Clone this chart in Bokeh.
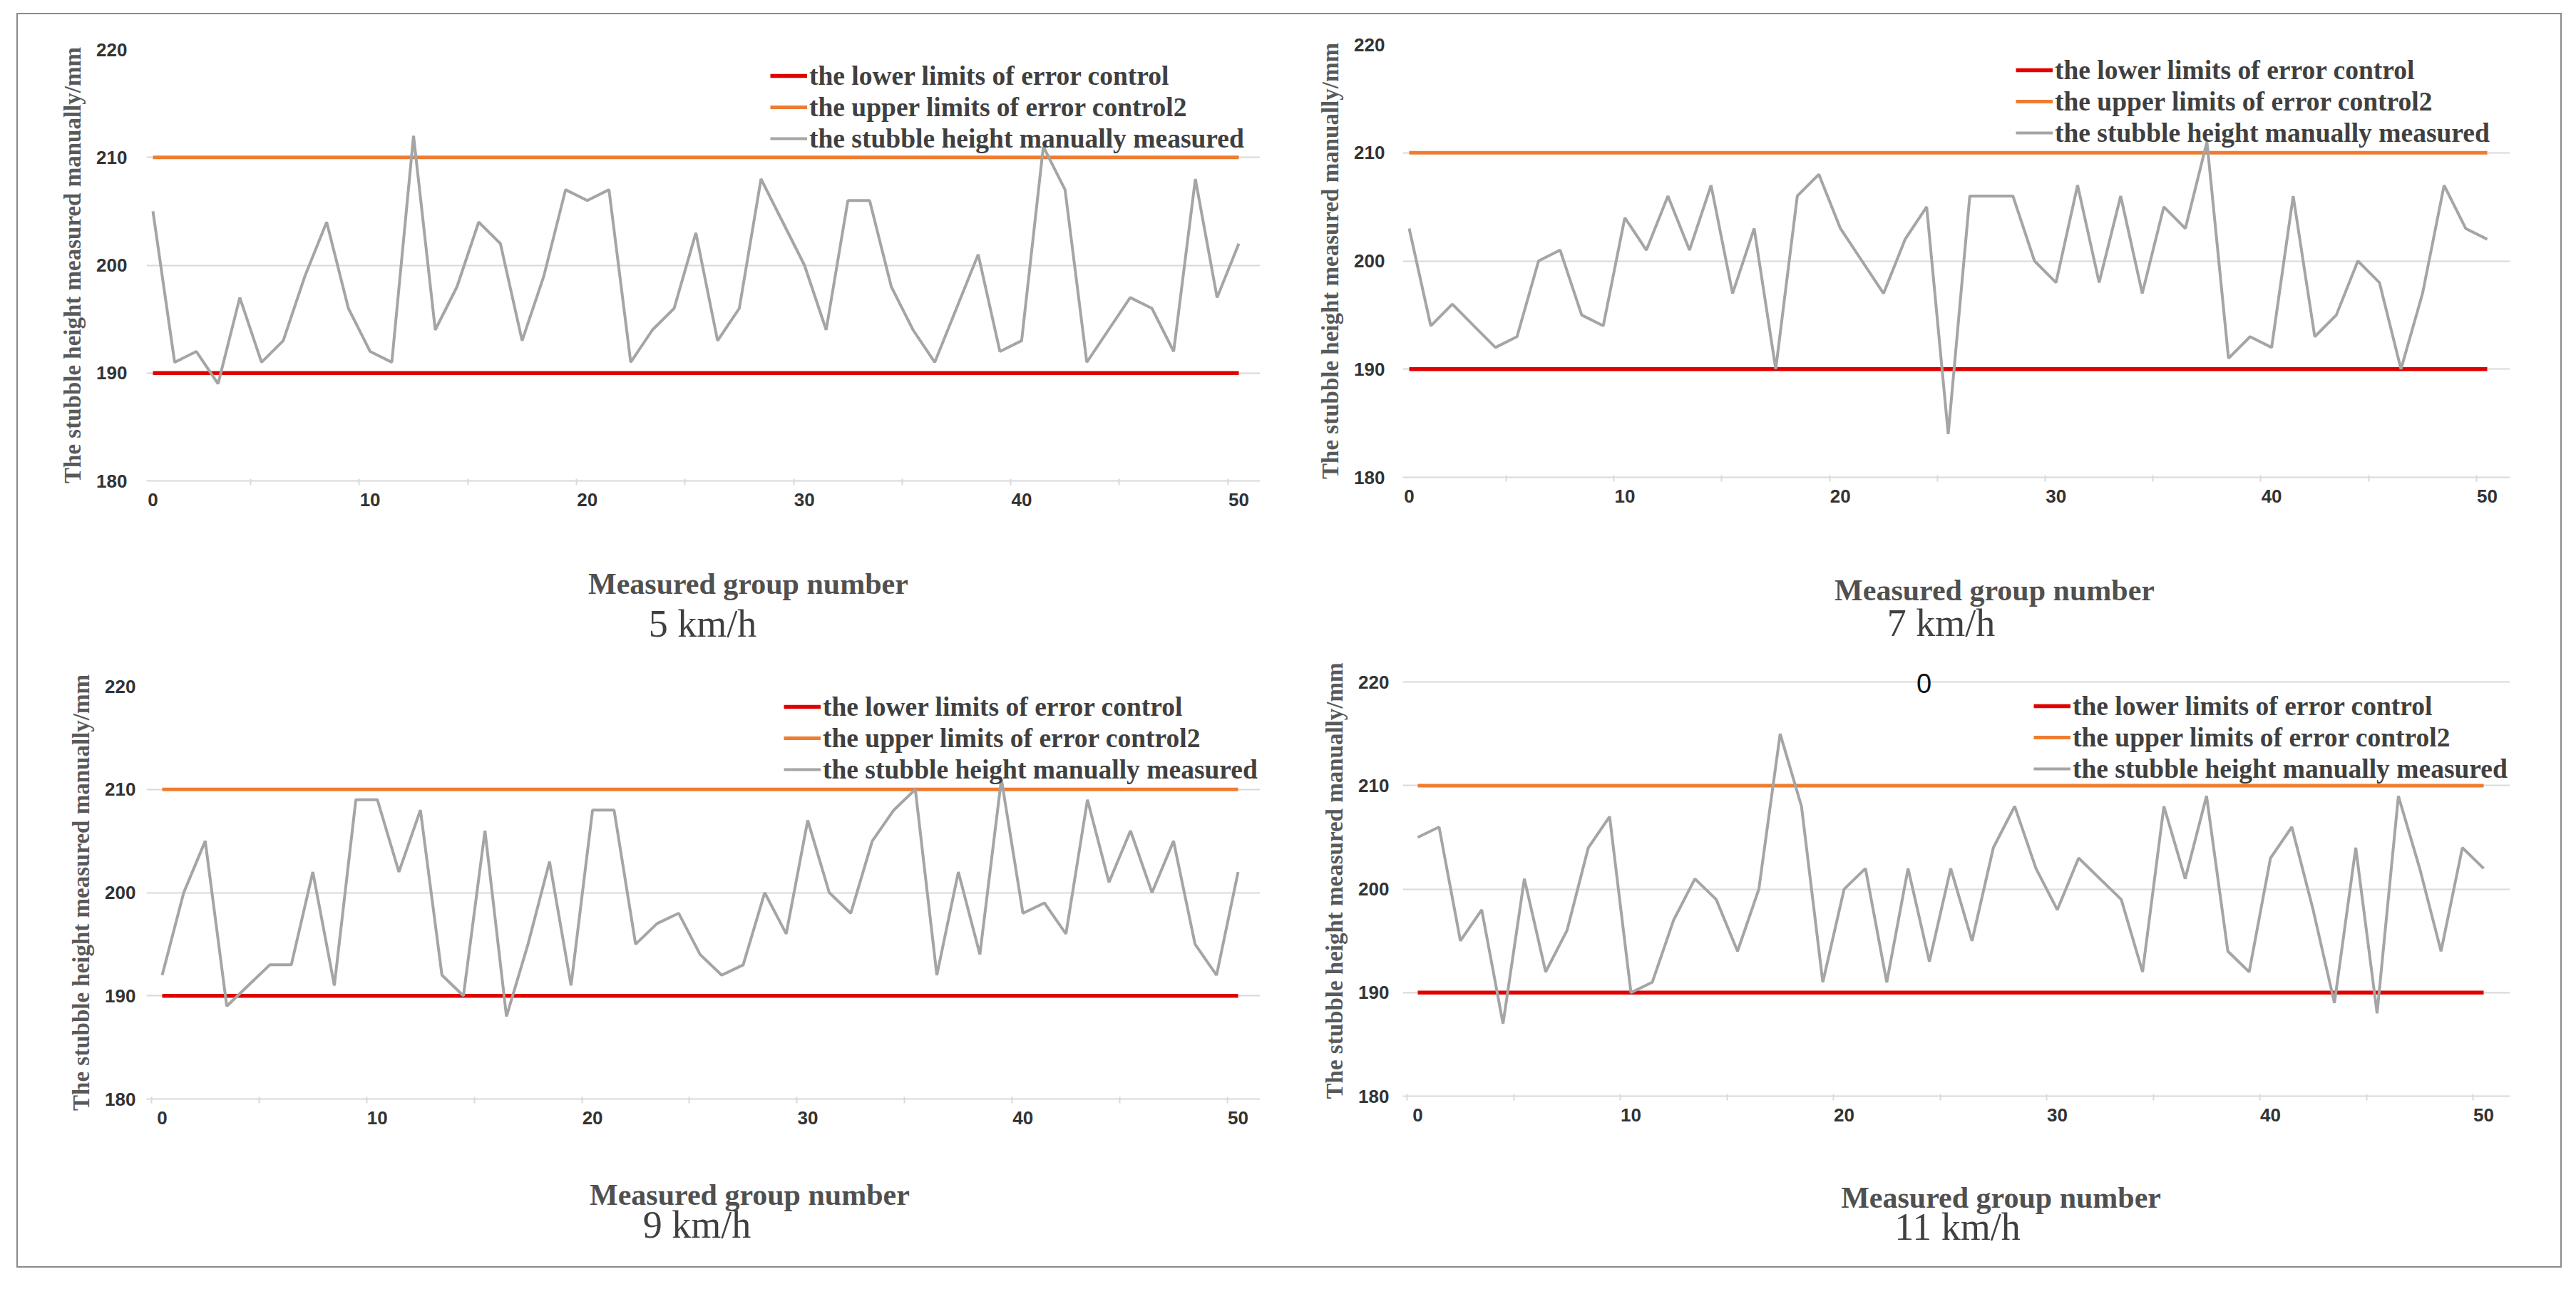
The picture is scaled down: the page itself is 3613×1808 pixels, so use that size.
from bokeh.plotting import figure
from bokeh.models import FixedTicker, Label, Legend, LegendItem, Range1d, Spacer
from bokeh.layouts import column, row
from bokeh.embed import file_html
from bokeh.resources import INLINE

# ---------------- data ----------------
GROUPS = list(range(51))
LOWER_LIMIT = 190
UPPER_LIMIT = 210

H_5KMH = [205, 191, 192, 189, 197, 191, 193, 199, 204, 196, 192, 191, 212, 194, 198, 204, 202,
          193, 199, 207, 206, 207, 191, 194, 196, 203, 193, 196, 208, 204, 200, 194, 206, 206,
          198, 194, 191, 196, 201, 192, 193, 211, 207, 191, 194, 197, 196, 192, 208, 197, 202]
H_7KMH = [203, 194, 196, 194, 192, 193, 200, 201, 195, 194, 204, 201, 206, 201, 207, 197, 203,
          190, 206, 208, 203, 200, 197, 202, 205, 184, 206, 206, 206, 200, 198, 207, 198, 206,
          197, 205, 203, 211, 191, 193, 192, 206, 193, 195, 200, 198, 190, 197, 207, 203, 202]
H_9KMH = [192, 200, 205, 189, 191, 193, 193, 202, 191, 209, 209, 202, 208, 192, 190, 206, 188,
          195, 203, 191, 208, 208, 195, 197, 198, 194, 192, 193, 200, 196, 207, 200, 198, 205,
          208, 210, 192, 202, 194, 211, 198, 199, 196, 209, 201, 206, 200, 205, 195, 192, 202]
H_11KMH = [205, 206, 195, 198, 187, 201, 192, 196, 204, 207, 190, 191, 197, 201, 199, 194, 200,
           215, 208, 191, 200, 202, 191, 202, 193, 202, 195, 204, 208, 202, 198, 203, 201, 199,
           192, 208, 201, 209, 194, 192, 203, 206, 198, 189, 204, 188, 209, 202, 194, 204, 202]

SPEEDS = ["5 km/h", "7 km/h", "9 km/h", "11 km/h"]
Y_TICKS = [180, 190, 200, 210, 220]
X_TICKS = [0, 10, 20, 30, 40, 50]
X_MINOR = [-0.5, 4.5, 9.5, 14.5, 19.5, 24.5, 29.5, 34.5, 39.5, 44.5, 49.5]

LEG_LOWER = "the lower limits of error control"
LEG_UPPER = "the upper limits of error control2"
LEG_MEAS = "the stubble height manually measured"
Y_TITLE = "The stubble height measured manually/mm"
X_TITLE = "Measured group number"
STRAY_TEXT = "0"

RED = "#E00000"
ORANGE = "#ED7D31"
GRAY = "#A5A5A5"
GRID = "#D9D9D9"
SERIF = "Liberation Serif"
SANS = "Liberation Sans"
LEG_PAD = 6

# Layout (pixels). Frames in one column share the same left/right border
# (Bokeh aligns them); each panel's x range puts groups 0 and 50 where the
# reference has them.
#   W,H: canvas; L,R: frame left/right in canvas px; x0,x50: canvas px of group 0/50
#   ft, fh: frame top / height (180..220); lx, lb: legend offsets from frame
#   xt, sp: x positions (group units) and y (px below plot canvas) of the two titles
CFG = [
    dict(W=1790, H=890, HP=705, L=180, R=1742, x0=189, x50=1712, ft=49, fh=605,
         lx=881, lb=464, ystand=27, xt=(27.41, 93), sp=(25.31, 149), head=0.0),
    dict(W=1776, H=890, HP=705, L=152, R=1705, x0=161, x50=1673, ft=42, fh=607,
         lx=866, lb=467, ystand=25, xt=(27.15, 102), sp=(24.67, 148), head=0.0),
    dict(W=1790, H=866, HP=700, L=180, R=1742, x0=202, x50=1711, ft=52, fh=579,
         lx=900, lb=446, ystand=15, xt=(27.30, 65), sp=(24.85, 107), head=0.0),
    dict(W=1776, H=866, HP=700, L=152, R=1705, x0=173, x50=1668, ft=46, fh=581,
         lx=891, lb=443, ystand=19, xt=(27.36, 69), sp=(25.32, 110), head=1.6),
]
SERIES = [H_5KMH, H_7KMH, H_9KMH, H_11KMH]


def make_panel(values, speed, c, stray=None):
    unit = (c["x50"] - c["x0"]) / 50.0
    x_start = -(c["x0"] - c["L"]) / unit
    x_end = 50 + (c["R"] - c["x50"]) / unit
    ppu = c["fh"] / 40.0
    extra_px = int(round(c["head"] * ppu))
    top = c["ft"] - extra_px
    fh = c["fh"] + extra_px
    HP = c["HP"]

    p = figure(width=c["W"], height=HP, output_backend="svg", toolbar_location=None,
               x_range=Range1d(x_start, x_end), y_range=Range1d(180, 220 + c["head"]),
               min_border_left=c["L"], min_border_right=c["W"] - c["R"],
               min_border_top=top, min_border_bottom=HP - top - fh)
    p.outline_line_color = None
    p.background_fill_color = "white"
    p.border_fill_color = "white"

    p.xgrid.grid_line_color = None
    p.ygrid.grid_line_color = GRID
    p.ygrid.grid_line_width = 2
    p.ygrid.ticker = FixedTicker(ticks=Y_TICKS)

    p.yaxis.ticker = FixedTicker(ticks=Y_TICKS)
    p.yaxis.axis_line_color = None
    p.yaxis.major_tick_line_color = None
    p.yaxis.minor_tick_line_color = None
    p.yaxis.major_tick_out = 0
    p.yaxis.major_label_standoff = c["ystand"]
    p.yaxis.major_label_text_font = SANS
    p.yaxis.major_label_text_font_size = "26px"
    p.yaxis.major_label_text_font_style = "bold"
    p.yaxis.major_label_text_color = "#333333"
    p.yaxis.axis_label = Y_TITLE
    p.yaxis.axis_label_standoff = 12
    p.yaxis.axis_label_text_font = SERIF
    p.yaxis.axis_label_text_font_size = "33px"
    p.yaxis.axis_label_text_font_style = "bold"
    p.yaxis.axis_label_text_color = "#595959"

    p.xaxis.ticker = FixedTicker(ticks=X_TICKS, minor_ticks=X_MINOR)
    p.xaxis.axis_line_color = GRID
    p.xaxis.axis_line_width = 2
    p.xaxis.major_tick_line_color = None
    p.xaxis.major_tick_out = 0
    p.xaxis.major_tick_in = 0
    p.xaxis.minor_tick_line_color = GRID
    p.xaxis.minor_tick_line_width = 2
    p.xaxis.minor_tick_in = 3
    p.xaxis.minor_tick_out = 6
    p.xaxis.major_label_standoff = 11
    p.xaxis.major_label_text_font = SANS
    p.xaxis.major_label_text_font_size = "26px"
    p.xaxis.major_label_text_font_style = "bold"
    p.xaxis.major_label_text_color = "#333333"

    r_low = p.line(GROUPS, [LOWER_LIMIT] * len(GROUPS), line_color=RED, line_width=5.5)
    r_up = p.line(GROUPS, [UPPER_LIMIT] * len(GROUPS), line_color=ORANGE, line_width=5)
    r_meas = p.line(GROUPS, values, line_color=GRAY, line_width=4)

    leg = Legend(items=[LegendItem(label=LEG_LOWER, renderers=[r_low]),
                        LegendItem(label=LEG_UPPER, renderers=[r_up]),
                        LegendItem(label=LEG_MEAS, renderers=[r_meas])],
                 location=(c["lx"] - LEG_PAD, c["lb"] - LEG_PAD), orientation="vertical",
                 padding=LEG_PAD, margin=0, spacing=0,
                 glyph_width=52, glyph_height=44, label_height=44, label_standoff=3,
                 border_line_color=None, background_fill_alpha=0,
                 label_text_font=SERIF, label_text_font_style="bold",
                 label_text_font_size="37.5px", label_text_color="#404040")
    p.add_layout(leg, "center")

    if stray is not None:
        p.add_layout(Label(x=stray[0], y=stray[1], text=STRAY_TEXT,
                           text_align="center", text_baseline="middle",
                           text_font=SANS, text_font_size="38px", text_color="#111111"))

    # axis titles below the plot: a blank figure sharing the plot's group scale
    ht = c["H"] - HP
    t = figure(width=c["W"], height=ht, output_backend="svg", toolbar_location=None,
               x_range=Range1d(x_start, x_end), y_range=Range1d(ht, 0),
               x_axis_type=None, y_axis_type=None,
               min_border_left=c["L"], min_border_right=c["W"] - c["R"],
               min_border_top=0, min_border_bottom=0)
    t.outline_line_color = None
    t.background_fill_color = "white"
    t.border_fill_color = "white"
    t.add_layout(Label(x=c["xt"][0], y=c["xt"][1], text=X_TITLE,
                       text_align="center", text_baseline="middle",
                       text_font=SERIF, text_font_size="42px", text_font_style="bold",
                       text_color="#505050"))
    t.add_layout(Label(x=c["sp"][0], y=c["sp"][1], text=speed,
                       text_align="center", text_baseline="middle",
                       text_font=SERIF, text_font_size="54px", text_color="#404040"))
    return p, t


figs = []
for i, (vals, spd, c) in enumerate(zip(SERIES, SPEEDS, CFG)):
    stray = (23.75, 219.86) if i == 3 else None
    figs.append(make_panel(vals, spd, c, stray))

left = column(figs[0][0], figs[0][1], figs[2][0], figs[2][1])
right = column(figs[1][0], figs[1][1], figs[3][0], figs[3][1])
inner = row(left, right, styles={"border": "2px solid #8a8a8a"})
page = column(Spacer(height=18), row(Spacer(width=23), inner))

open("out.html", "w").write(file_html(page, INLINE))
